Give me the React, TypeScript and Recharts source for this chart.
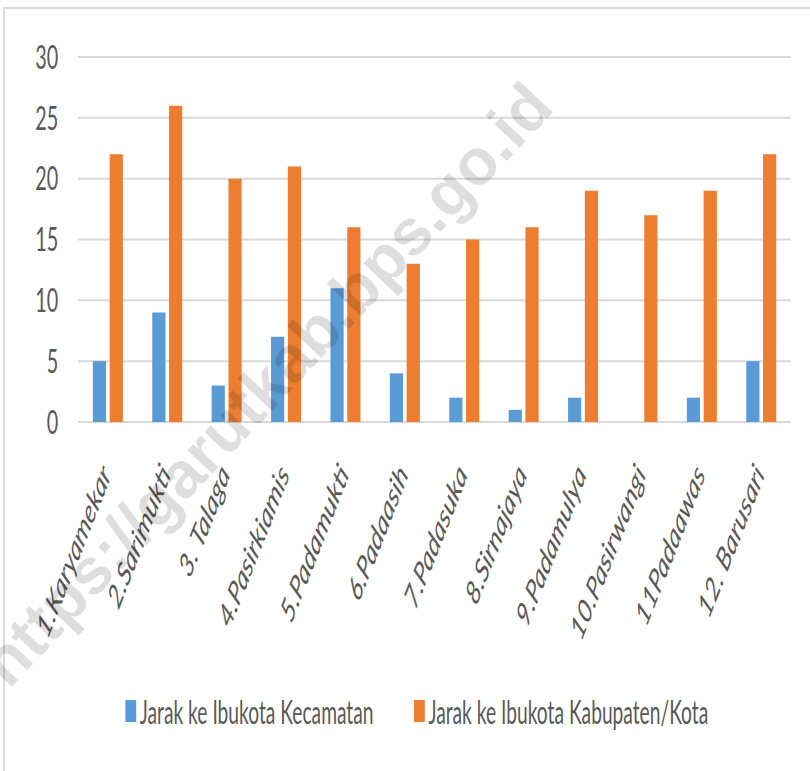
import React from 'react';
import { BarChart, Bar, XAxis, YAxis, CartesianGrid, Legend } from 'recharts';

const desa = [
  '1.Karyamekar',
  '2.Sarimukti',
  '3. Talaga',
  '4.Pasirkiamis',
  '5.Padamukti',
  '6.Padaasih',
  '7.Padasuka',
  '8.Sirnajaya',
  '9.Padamulya',
  '10.Pasirwangi',
  '11Padaawas',
  '12. Barusari',
];
const jarakKecamatan = [5, 9, 3, 7, 11, 4, 2, 1, 2, 0, 2, 5];
const jarakKabupaten = [22, 26, 20, 21, 16, 13, 15, 16, 19, 17, 19, 22];
const yTicks = [0, 5, 10, 15, 20, 25, 30];

const SERIES = [
  { key: 'kecamatan', name: 'Jarak ke Ibukota Kecamatan', color: '#5B9BD5' },
  { key: 'kabupaten', name: 'Jarak ke Ibukota Kabupaten/Kota', color: '#ED7D31' },
];

const data = desa.map((name, i) => ({
  name,
  kecamatan: jarakKecamatan[i],
  kabupaten: jarakKabupaten[i],
}));

// the picture is squeezed sideways, so the chart is drawn wide and scaled down
const SQUEEZE = 0.6;
const W = 1350;
const H = 771;
const FONT = 'Lato, "Open Sans", sans-serif';
const TEXT = '#595959';

const CategoryTick = (props: any) => {
  const { x, y, payload } = props;
  return (
    <g transform={`translate(${x + 7},${y + 53})`}>
      <text
        textAnchor="end"
        transform="rotate(-57)"
        fontFamily={FONT}
        fontSize={34}
        fontStyle="italic"
        fill={TEXT}
      >
        {payload.value}
      </text>
    </g>
  );
};

// legend item left edges, in the wide (unsqueezed) drawing
const LEGEND_LEFT = [209, 690];

const LegendBox = () => (
  <div
    style={{
      position: 'relative',
      height: 30,
      fontFamily: FONT,
      fontSize: 32,
      color: TEXT,
      whiteSpace: 'nowrap',
    }}
  >
    {SERIES.map((s, i) => (
      <div
        key={s.key}
        style={{ position: 'absolute', left: LEGEND_LEFT[i], top: 0, height: 30, display: 'flex', alignItems: 'center' }}
      >
        <span style={{ width: 18, height: 22, background: s.color, marginRight: 6, display: 'inline-block' }} />
        <span>{s.name}</span>
      </div>
    ))}
  </div>
);

const App: React.FC = () => {
  return (
    <div style={{ position: 'absolute', left: 0, top: 0, width: 810, height: 771, overflow: 'hidden', background: '#fff' }}>
      <div
        style={{
          position: 'absolute',
          left: 3,
          top: 7,
          width: 900,
          height: 900,
          borderLeft: '2px solid #d9d9d9',
          borderTop: '2px solid #d9d9d9',
        }}
      />
      <div
        style={{
          position: 'absolute',
          left: 0,
          top: 0,
          width: W,
          height: H,
          transform: `scaleX(${SQUEEZE})`,
          transformOrigin: '0 0',
        }}
      >
        <BarChart
          width={W}
          height={H}
          data={data}
          margin={{ top: 57, right: 32, bottom: 45, left: 0 }}
          barCategoryGap="25%"
          barGap={6}
        >
          <CartesianGrid vertical={false} stroke="#d9d9d9" strokeWidth={2} />
          <XAxis
            dataKey="name"
            interval={0}
            axisLine={false}
            tickLine={false}
            tickSize={0}
            tickMargin={0}
            height={274}
            tick={<CategoryTick />}
          />
          <YAxis
            domain={[0, 30]}
            ticks={yTicks}
            width={130}
            axisLine={false}
            tickLine={false}
            tickSize={0}
            tickMargin={33}
            tick={{ fontFamily: FONT, fontSize: 33, fill: TEXT }}
          />
          <Legend
            verticalAlign="bottom"
            content={<LegendBox />}
            wrapperStyle={{ left: 0, width: W, height: 30 }}
          />
          {SERIES.map((s) => (
            <Bar key={s.key} dataKey={s.key} name={s.name} fill={s.color} isAnimationActive={false} />
          ))}
        </BarChart>
      </div>
      <svg width={810} height={771} style={{ position: 'absolute', left: 0, top: 0, pointerEvents: 'none' }}>
        <text
          x={266}
          y={384}
          textAnchor="middle"
          dominantBaseline="central"
          transform="rotate(-46.7 266 384)"
          fontFamily='"Liberation Sans", Arial, sans-serif'
          fontWeight="bold"
          fontSize={65}
          fill="rgba(0,0,0,0.13)"
        >
          https://garutkab.bps.go.id
        </text>
      </svg>
    </div>
  );
};

export default App;
